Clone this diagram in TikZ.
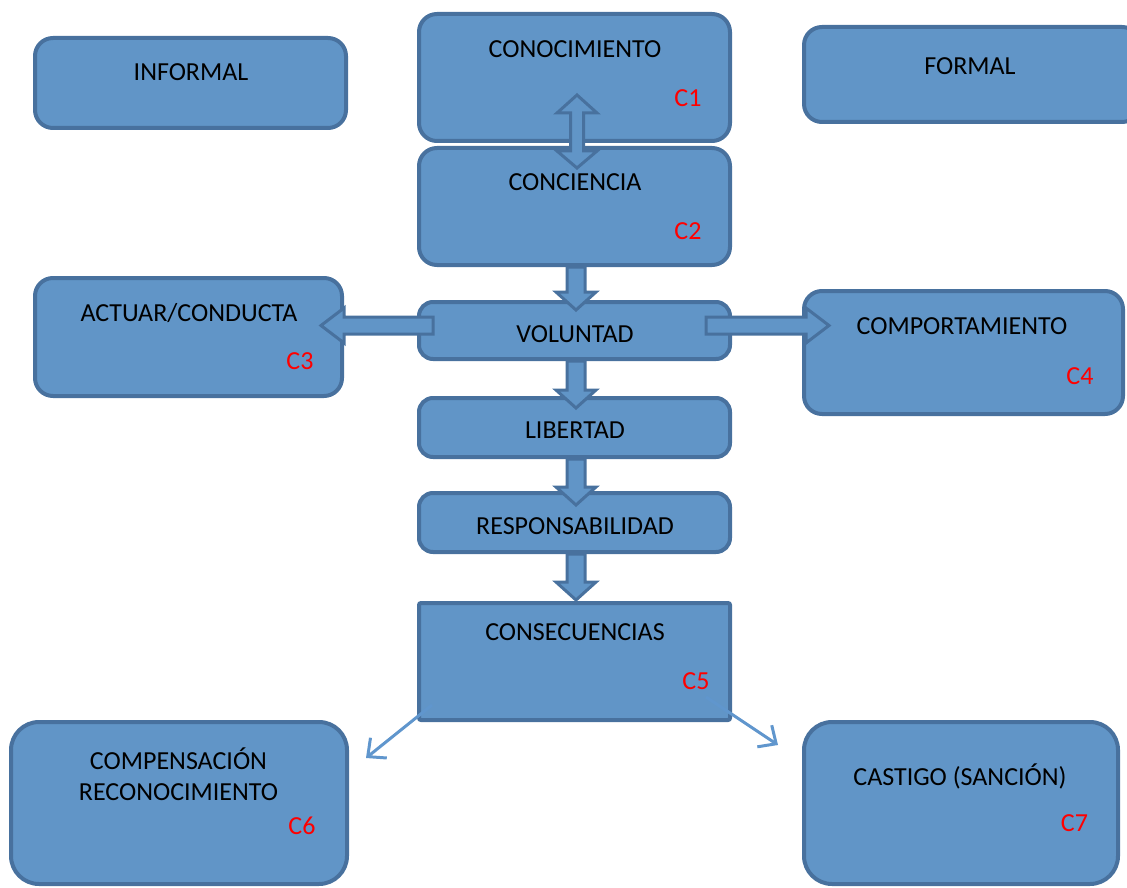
\documentclass[tikz,border=0pt]{standalone}
\usepackage{fontspec}
\setmainfont{Carlito}
\usetikzlibrary{arrows.meta}
\definecolor{boxfill}{RGB}{97,149,199}
\definecolor{boxline}{RGB}{72,113,158}
\definecolor{thinarrow}{RGB}{96,150,205}
\tikzset{
  box/.style={draw=boxline,fill=boxfill,line width=4pt,rounded corners=18pt,inner sep=0pt},
  sqbox/.style={box,rounded corners=2pt},
  lbl/.style={inner sep=0pt,font=\fontsize{26}{30}\selectfont},
  clbl/.style={lbl,text=red},
  blk/.style={draw=boxline,fill=boxfill,line width=3pt,line join=miter},
  thin/.style={draw=thinarrow,line width=3pt,-{Straight Barb[length=14pt,width=26pt,line width=3pt]}}
}
% vertical block arrow: x, y-top, y-tip
\newcommand\vblk[3]{\path[blk] (#1-9,#2) -- (#1+9,#2) -- (#1+9,#3-18) -- (#1+20,#3-18) -- (#1,#3) -- (#1-20,#3-18) -- (#1-9,#3-18) -- cycle;}
\begin{document}
\begin{tikzpicture}[x=1pt,y=-1pt]
\useasboundingbox (0,0) rectangle (1127,888);
% boxes
\node[box,minimum width=311pt,minimum height=90pt] (inf) at (190.5,83) {};
\node[box,minimum width=311pt,minimum height=127pt] (conoc) at (574.5,77.5) {};
\node[box,minimum width=336pt,minimum height=95pt] (formal) at (972,74.5) {};
\node[box,minimum width=311pt,minimum height=117pt] (concie) at (574.5,206.5) {};
\node[box,minimum width=307pt,minimum height=118pt] (actuar) at (188.5,337) {};
\node[box,minimum width=311pt,minimum height=57pt,rounded corners=14pt] (volun) at (574.5,330.5) {};
\node[box,minimum width=319pt,minimum height=123pt] (compor) at (963.5,352.5) {};
\node[box,minimum width=311pt,minimum height=59pt,rounded corners=14pt] (libert) at (574.5,427.5) {};
\node[box,minimum width=311pt,minimum height=59pt,rounded corners=14pt] (respon) at (574.5,522.5) {};
\node[sqbox,minimum width=311pt,minimum height=117pt] (consec) at (574.5,661.5) {};
\node[box,minimum width=336pt,minimum height=162pt,rounded corners=28pt] (compen) at (179,803) {};
\node[box,minimum width=314pt,minimum height=162pt,rounded corners=28pt] (castig) at (961,803) {};
% labels
\node[lbl] (tinf) at (191,72) {INFORMAL};
\node[lbl] (tconoc) at (575,49) {CONOCIMIENTO};
\node[clbl] (c1) at (688,98) {C1};
\node[lbl] (tformal) at (970,66) {FORMAL};
\node[lbl] (tconcie) at (575,182) {CONCIENCIA};
\node[clbl] (c2) at (688,231) {C2};
\node[lbl] (tactuar) at (189,313) {ACTUAR/CONDUCTA};
\node[clbl] (c3) at (300,361) {C3};
\node[lbl] (tvolun) at (575,334) {VOLUNTAD};
\node[lbl] (tcompor) at (962,326) {COMPORTAMIENTO};
\node[clbl] (c4) at (1080,376) {C4};
\node[lbl] (tlibert) at (575,430) {LIBERTAD};
\node[lbl] (trespon) at (575,526) {RESPONSABILIDAD};
\node[lbl] (tconsec) at (575,632) {CONSECUENCIAS};
\node[clbl] (c5) at (696,681) {C5};
\node[lbl] (tcompen1) at (178.5,759) {COMPENSACIÓN};
\node[lbl] (tcompen2) at (178.5,792) {RECONOCIMIENTO};
\node[clbl] (c6) at (302,826) {C6};
\node[lbl] (tcastig) at (960,776) {CASTIGO (SANCIÓN)};
\node[clbl] (c7) at (1074.5,823) {C7};
% double arrow conocimiento <-> conciencia
\path[blk] (577,95) -- (597,113) -- (583.5,113) -- (583.5,151) -- (597,151) -- (577,168)
  -- (557,151) -- (570.5,151) -- (570.5,113) -- (557,113) -- cycle;
% vertical block arrows
\vblk{576}{267}{310}
\vblk{576}{361}{408}
\vblk{576}{459}{505}
\vblk{576}{554}{600}
% horizontal block arrows from voluntad
\path[blk] (433,317) -- (433,334) -- (344,334) -- (344,343) -- (321,325.5) -- (344,308) -- (344,317) -- cycle;
\path[blk] (706,317) -- (706,334) -- (806,334) -- (806,343) -- (829,325.5) -- (806,308) -- (806,317) -- cycle;
% thin arrows from consecuencias
\coordinate (s1) at (432,705);
\coordinate (e1) at (366,758);
\coordinate (s2) at (706,697);
\coordinate (e2) at (778,745);
\draw[thin] (s1) -- (e1);
\draw[thin] (s2) -- (e2);
\end{tikzpicture}
\end{document}
